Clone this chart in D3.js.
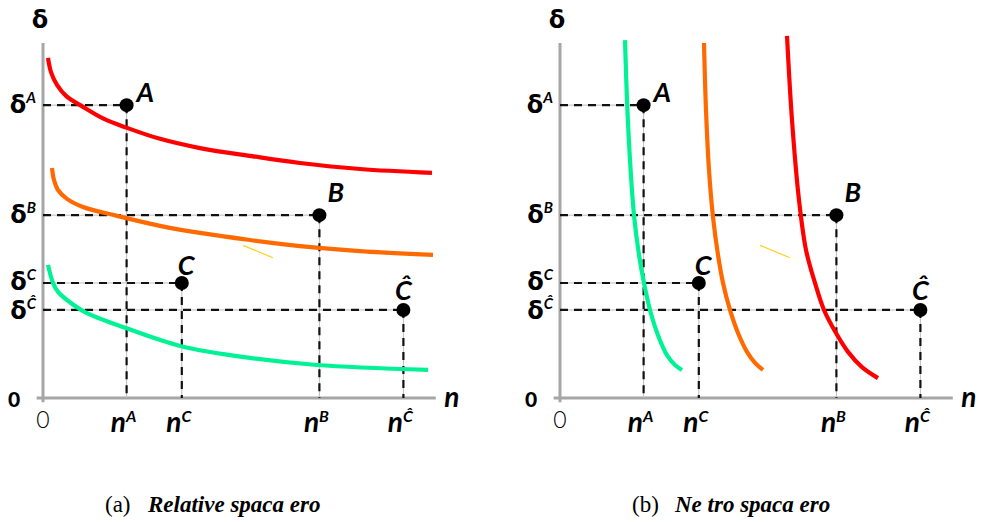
<!DOCTYPE html>
<html>
<head>
<meta charset="utf-8">
<script src="https://d3js.org/d3.v7.min.js"></script>
<style>
  body { margin: 0; background: #fff; }
  svg { display: block; }
</style>
</head>
<body>
<div id="chart"></div>
<script>
// points shared by both panels
var pointNames = ["A", "B", "C", "Ĉ"];
var pointN     = [20.9, 69.1, 34.7, 90.1];
var pointDelta = [82.5, 51.5, 32.4, 24.8];

// left panel curves (n, delta)
var relRed    = [[1.25, 95.8], [2, 91.8], [3.5, 88.2], [5.75, 85.1], [10, 82.0], [15.25, 78.6], [21, 76.1],
                 [29.25, 73.0], [39.25, 70.4], [51.75, 68.2], [64.25, 66.2], [79.25, 64.5], [97.25, 63.4]];
var relOrange = [[2.25, 64.8], [2.75, 61.4], [3.75, 58.6], [6, 56.1], [10, 53.8], [18.5, 51.3], [29.25, 48.5],
                 [39.25, 46.5], [51.75, 44.5], [64.25, 42.8], [79.25, 41.4], [97.5, 40.3]];
var relGreen  = [[1.25, 37.5], [2.5, 32.4], [3.75, 29.9], [6, 27.6], [10.5, 24.2], [20.75, 19.7], [34.5, 14.6],
                 [51.75, 11.3], [68.5, 9.3], [96.25, 7.9]];

// right panel curves
var netGreen  = [[16.25, 100.8], [16.75, 83.9], [17.5, 67.0], [18.5, 51.5], [19.75, 40.3], [21, 32.4],
                 [22.5, 24.8], [24.5, 17.7], [26.75, 12.1], [28.75, 9.3], [30.5, 7.9]];
var netOrange = [[36, 100.0], [36.5, 81.1], [37.25, 64.2], [38.25, 51.0], [39.5, 40.3], [40.75, 32.4],
                 [42.5, 24.8], [44.5, 18.3], [46.75, 13.0], [48.75, 9.9], [50.75, 7.9]];
var netRed    = [[56.75, 102.0], [58, 78.3], [59.75, 55.8], [61.5, 41.7], [63.75, 32.4], [66, 24.8],
                 [69, 18.3], [72, 13.0], [75.5, 8.7], [79.5, 5.6]];

// stray yellow stroke in both panels
var yellowMark = [[50, 43], [57.5, 39.5]];

var captions = [["(a)", "Relative spaca ero"], ["(b)", "Ne tro spaca ero"]];

var W = 981, H = 522;
var svg = d3.select("#chart").append("svg").attr("width", W).attr("height", H);

var colors = { red: "#ff0000", orange: "#ff6a00", green: "#00f295", yellow: "#ffd21a" };
var font = "Lato, 'Open Sans', sans-serif";
var greek = "'DejaVu Sans', sans-serif";

function drawPanel(x0, curves, cap, capX) {
  var x = d3.scaleLinear().domain([0, 100]).range([x0, x0 + 400]);
  var y = d3.scaleLinear().domain([0, 100]).range([398, 43]);
  var g = svg.append("g");
  var line = d3.line().x(function (d) { return x(d[0]); }).y(function (d) { return y(d[1]); });

  // axes
  g.append("path").attr("d", line([[0, -1.2], [0, 100]]))
    .attr("stroke", "#a6a6a6").attr("stroke-width", 3).attr("fill", "none");
  g.append("path").attr("d", line([[-1.6, 0], [98.2, 0]]))
    .attr("stroke", "#a6a6a6").attr("stroke-width", 3).attr("fill", "none");

  // guide lines
  pointNames.forEach(function (name, i) {
    var segs = [[[0, pointDelta[i]], [pointN[i], pointDelta[i]]], [[pointN[i], pointDelta[i]], [pointN[i], 0]]];
    segs.forEach(function (s) {
      g.append("path").attr("d", line(s)).attr("stroke", "#bdbdbd").attr("stroke-width", 1).attr("fill", "none");
      g.append("path").attr("d", line(s)).attr("stroke", "#111").attr("stroke-width", 2.2)
        .attr("stroke-dasharray", "8,6").attr("fill", "none");
    });
  });

  // curves
  var smooth = d3.line().x(function (d) { return x(d[0]); }).y(function (d) { return y(d[1]); })
    .curve(d3.curveCatmullRom.alpha(0.5));
  curves.forEach(function (c) {
    g.append("path").attr("d", smooth(c.data))
      .attr("stroke", c.color).attr("stroke-width", 4.2).attr("fill", "none");
  });
  g.append("path").attr("d", line(yellowMark)).attr("stroke", colors.yellow).attr("stroke-width", 1.2);

  // points
  var labelOff = [[10, -3, "start"], [8, -13, "start"], [-4, -8, "start"], [0, -10, "middle"]];
  pointNames.forEach(function (name, i) {
    g.append("circle").attr("cx", x(pointN[i])).attr("cy", y(pointDelta[i])).attr("r", 7).attr("fill", "#000");
    g.append("text").attr("x", x(pointN[i]) + labelOff[i][0]).attr("y", y(pointDelta[i]) + labelOff[i][1])
      .attr("text-anchor", labelOff[i][2])
      .style("font-family", font).style("font-weight", 700).style("font-style", "italic").style("font-size", "27px")
      .text(name);
  });

  // delta labels on the y axis
  var nudge = [0, 0, -1, 1];
  pointNames.forEach(function (name, i) {
    var t = g.append("text").attr("x", x(0) - 7).attr("y", y(pointDelta[i]) + 8 + nudge[i]).attr("text-anchor", "end")
      .style("font-family", greek).style("font-weight", 700).style("font-size", "24px");
    t.append("tspan").text("δ");
    t.append("tspan").attr("dy", -10).style("font-family", font).style("font-size", "15px")
      .style("font-style", "italic").text(name);
  });

  // n labels under the x axis
  pointNames.forEach(function (name, i) {
    var t = g.append("text").attr("x", x(pointN[i]) - 3).attr("y", 432).attr("text-anchor", "middle")
      .style("font-family", font).style("font-weight", 700).style("font-style", "italic").style("font-size", "28px");
    t.append("tspan").text("n");
    t.append("tspan").attr("dy", -10).style("font-size", "16px").text(name);
  });

  // axis titles and zeros
  g.append("text").attr("x", x(0) - 3).attr("y", 28).attr("text-anchor", "middle")
    .style("font-family", greek).style("font-weight", 700).style("font-size", "24px").text("δ");
  g.append("text").attr("x", x(98.2) + 16).attr("y", 407).attr("text-anchor", "middle")
    .style("font-family", font).style("font-weight", 700).style("font-style", "italic").style("font-size", "28px").text("n");
  g.append("text").attr("x", x(0) - 29).attr("y", 407).attr("text-anchor", "middle")
    .style("font-family", font).style("font-weight", 900).style("font-size", "21px").text("0");
  g.append("text").attr("x", x(0)).attr("y", 428).attr("text-anchor", "middle")
    .style("font-family", font).style("font-weight", 300).style("font-size", "23px").text("0");

  // caption
  var ct = g.append("text").attr("x", capX).attr("y", 512)
    .style("font-family", "'Liberation Serif', 'Times New Roman', serif").style("font-size", "23px");
  ct.append("tspan").text(cap[0]);
  ct.append("tspan").attr("x", capX + 43).style("font-weight", 700).style("font-style", "italic").text(cap[1]);
}

drawPanel(43, [
  { data: relRed, color: colors.red },
  { data: relOrange, color: colors.orange },
  { data: relGreen, color: colors.green }
], captions[0], 105);

drawPanel(560, [
  { data: netGreen, color: colors.green },
  { data: netOrange, color: colors.orange },
  { data: netRed, color: colors.red }
], captions[1], 632);
</script>
</body>
</html>
